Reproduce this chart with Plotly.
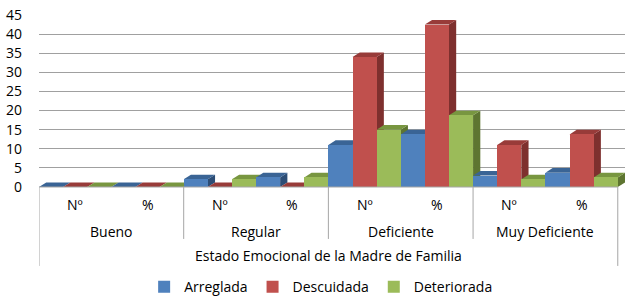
import plotly.graph_objects as go

groups = ["Bueno", "Regular", "Deficiente", "Muy Deficiente"]
sub_labels = ["Nº", "%"]
axis_title = "Estado Emocional de la Madre de Familia"

arreglada = [0, 0, 2, 2.5, 11, 13.75, 3, 3.75]
descuidada = [0, 0, 0, 0, 34, 42.5, 11, 13.75]
deteriorada = [0, 0, 2, 2.5, 15, 18.75, 2, 2.5]

series = [
    ("Arreglada", arreglada, "#4F81BD", "#3A6495", "#2C4D75"),
    ("Descuidada", descuidada, "#C0504D", "#983B39", "#7E302E"),
    ("Deteriorada", deteriorada, "#9BBB59", "#789640", "#5E7531"),
]

FONT = "Open Sans"
FS = 14
x = list(range(len(arreglada)))
n_series = len(series)
bw = 1.0 / n_series
DX = 0.10   # depth in x-axis units
DY = 1.2    # depth in y-axis units

fig = go.Figure()
for name, vals, col, _, _ in series:
    fig.add_trace(go.Bar(x=x, y=vals, name=name, marker=dict(color=col, line=dict(width=0))))

# 3D depth faces (side + top), computed from the data, drawn between grid and bars
shapes = []
for i in x:
    for s, (name, vals, col, topc, sidec) in enumerate(series):
        v = vals[i]
        left = i - 0.5 + s * bw
        right = left + bw
        side = f"M{right},0 L{right},{v} L{right + DX},{v + DY} L{right + DX},{DY} Z"
        top = f"M{left},{v} L{right},{v} L{right + DX},{v + DY} L{left + DX},{v + DY} Z"
        shapes.append(dict(type="path", xref="x", yref="y", path=side, fillcolor=sidec,
                           line=dict(width=0), layer="between"))
        shapes.append(dict(type="path", xref="x", yref="y", path=top, fillcolor=topc,
                           line=dict(width=0), layer="between"))

annotations = []
for i in x:
    annotations.append(dict(x=i, y=-0.099, xref="x", yref="paper", text=sub_labels[i % 2],
                            showarrow=False, yanchor="middle", font=dict(size=FS, color="#000", family=FONT)))
for g, name in enumerate(groups):
    annotations.append(dict(x=2 * g + 0.5, y=-0.256, xref="x", yref="paper", text=name,
                            showarrow=False, yanchor="middle", font=dict(size=FS, color="#000", family=FONT)))
annotations.append(dict(x=3.5, y=-0.401, xref="x", yref="paper", text=axis_title,
                        showarrow=False, yanchor="middle", font=dict(size=FS, color="#000", family=FONT)))

for b in [1.5, 3.5, 5.5]:
    shapes.append(dict(type="line", xref="x", yref="paper", x0=b, x1=b, y0=0, y1=-0.302,
                       line=dict(color="#A6A6A6", width=1)))
for b in [-0.5, 7.5]:
    shapes.append(dict(type="line", xref="x", yref="paper", x0=b, x1=b, y0=0, y1=-0.459,
                       line=dict(color="#A6A6A6", width=1)))
shapes.append(dict(type="line", xref="x", yref="paper", x0=-0.5, x1=7.5, y0=0, y1=0,
                   line=dict(color="#A6A6A6", width=1)))

fig.update_layout(
    width=626, height=296,
    margin=dict(l=39, r=1, t=15, b=109, autoexpand=False),
    paper_bgcolor="white", plot_bgcolor="white",
    barmode="group", bargap=0, bargroupgap=0,
    font=dict(family=FONT, size=FS, color="#000"),
    showlegend=True,
    legend=dict(orientation="h", x=0.513, xanchor="center", xref="container",
                y=0.03, yanchor="middle", yref="container",
                font=dict(size=FS, family=FONT), itemwidth=30, tracegroupgap=0),
    annotations=annotations,
    shapes=shapes,
)
fig.update_xaxes(range=[-0.5, 7.6], showticklabels=False, showgrid=False, zeroline=False,
                 showline=False)
fig.update_yaxes(range=[0, 45], dtick=5, showgrid=True, gridcolor="#A0A0A0", gridwidth=1,
                 zeroline=False, showline=False, ticks="", ticklabelstandoff=16,
                 tickfont=dict(size=FS, family=FONT, color="#000"))

fig.write_html("out.html", config={"displayModeBar": False},
               post_script="document.body.style.margin='0';")
